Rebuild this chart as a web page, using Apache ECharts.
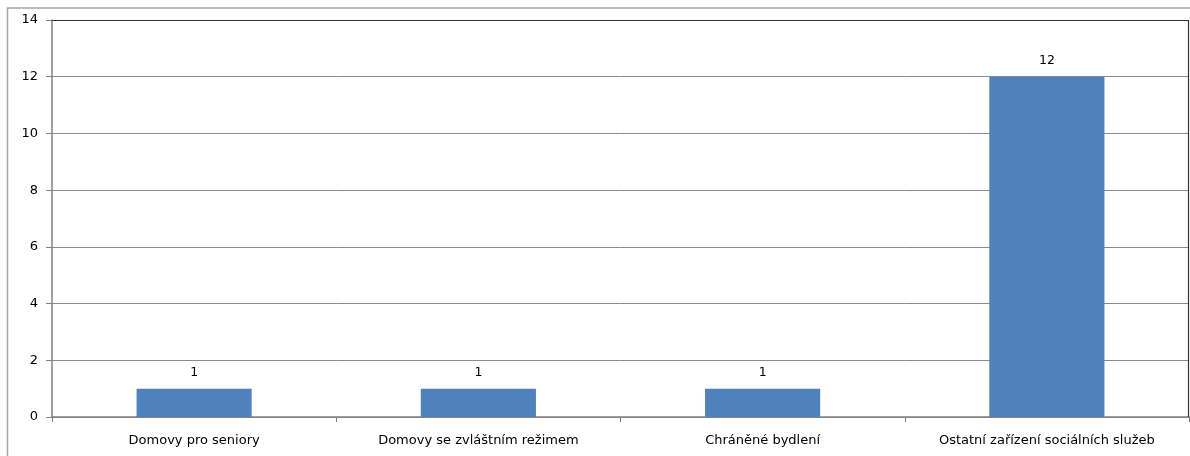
<!DOCTYPE html>
<html>
<head>
<meta charset="utf-8">
<script src="https://cdn.jsdelivr.net/npm/echarts@6/dist/echarts.min.js"></script>
<style>
html,body{margin:0;padding:0;background:#fff;}
#chart{width:1190px;height:456px;}
</style>
</head>
<body>
<div id="chart"></div>
<script>
const categories = ['Domovy pro seniory', 'Domovy se zvláštním režimem', 'Chráněné bydlení', 'Ostatní zařízení sociálních služeb'];
const values = [1, 1, 1, 12];
const yMin = 0, yMax = 14, yStep = 2;

const chart = echarts.init(document.getElementById('chart'));
const font = 'DejaVu Sans, sans-serif';
chart.setOption({
  animation: false,
  backgroundColor: '#fff',
  graphic: [{
    type: 'rect', z: -1,
    shape: { x: 7.5, y: 8, width: 1300, height: 600 },
    style: { fill: 'none', stroke: '#a6a6a6', lineWidth: 1.5 }
  }, {
    type: 'polyline', z: 10,
    shape: { points: [[52, 20.5], [1188.5, 20.5], [1188.5, 417]] },
    style: { fill: 'none', stroke: '#333', lineWidth: 1.2 }
  }],
  grid: { left: 52, top: 20, right: 1, bottom: 39, containLabel: false },
  xAxis: {
    type: 'category',
    data: categories,
    axisLine: { lineStyle: { color: '#808080', width: 1.5 } },
    axisTick: { show: true, length: 5, lineStyle: { color: '#808080' } },
    axisLabel: { color: '#000', fontFamily: font, fontSize: 13, margin: 17 }
  },
  yAxis: {
    type: 'value',
    min: yMin, max: yMax, interval: yStep,
    axisLine: { show: true, lineStyle: { color: '#808080', width: 1.5 } },
    axisTick: { show: true, length: 6, lineStyle: { color: '#808080' } },
    axisLabel: { color: '#000', fontFamily: font, fontSize: 13, margin: 14 },
    splitLine: { lineStyle: { color: '#8c8c8c', width: 1 } }
  },
  series: [{
    type: 'bar',
    data: values,
    barWidth: '40.5%',
    itemStyle: { color: '#4f81bd' },
    label: { show: true, position: 'top', distance: 9, color: '#000', fontFamily: font, fontSize: 12.5 }
  }]
});
</script>
</body>
</html>
